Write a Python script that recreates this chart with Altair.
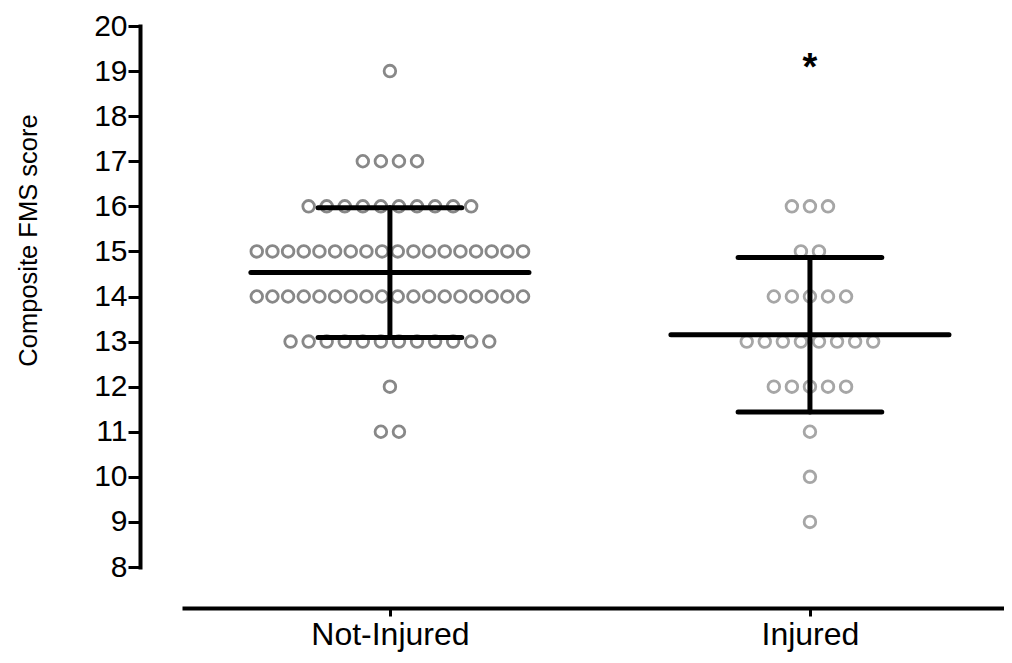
import altair as alt
import pandas as pd

# ---- data ----
groups = ["Not-Injured", "Injured"]
not_injured_scores = [19,
                      17, 17, 17, 17,
                      16, 16, 16, 16, 16, 16, 16, 16, 16, 16,
                      15, 15, 15, 15, 15, 15, 15, 15, 15, 15, 15, 15, 15, 15, 15, 15, 15, 15,
                      14, 14, 14, 14, 14, 14, 14, 14, 14, 14, 14, 14, 14, 14, 14, 14, 14, 14,
                      13, 13, 13, 13, 13, 13, 13, 13, 13, 13, 13, 13,
                      12,
                      11, 11]
injured_scores = [16, 16, 16,
                  15, 15,
                  14, 14, 14, 14, 14,
                  13, 13, 13, 13, 13, 13, 13, 13,
                  12, 12, 12, 12, 12,
                  11,
                  10,
                  9]
point_colors = ["#888888", "#a6a6a6"]
sig_group = ["Injured"]
sig_label = ["*"]
sig_y = [19.25]

# ---- scatter layout (column scatter, like Prism) ----
POINT_STEP = 0.043
MAX_ROW_SPAN = 0.634
rows = []
for gi, (g, scores) in enumerate(zip(groups, [not_injured_scores, injured_scores])):
    for s in sorted(set(scores), reverse=True):
        n = scores.count(s)
        step = min(POINT_STEP, MAX_ROW_SPAN / max(n - 1, 1))
        for k in range(n):
            rows.append({"group": g, "gi": gi, "score": s,
                         "xpos": gi + (k - (n - 1) / 2) * step})
pts = pd.DataFrame(rows)
sig = pd.DataFrame({"group": sig_group, "label": sig_label, "y": sig_y})
sig["gi"] = [groups.index(g) for g in sig_group]

label_expr = " : ".join(f"datum.value == {i} ? '{g}'" for i, g in enumerate(groups)) + " : ''"

xscale = alt.Scale(domain=[-0.495, 1.462], nice=False, zero=False)
yscale = alt.Scale(domain=[8, 20], nice=False, zero=False)

x_axis = alt.Axis(values=list(range(len(groups))), labelExpr=label_expr, title=None,
                  grid=False, offset=41, domainWidth=4, domainColor="black",
                  tickWidth=3, tickColor="black", tickSize=8, labelFontSize=32,
                  labelPadding=3, labelColor="black", labelFont="Liberation Sans")
y_axis = alt.Axis(values=list(range(8, 21)), title="Composite FMS score", grid=False,
                  offset=42, domainWidth=4, domainColor="black", domainCap="square",
                  tickWidth=3, tickColor="black", tickSize=12, labelFontSize=30,
                  labelPadding=1, labelColor="black", labelFont="Liberation Sans",
                  titleFontSize=25.5, titleFont="Liberation Sans", titleFontWeight="normal",
                  titleColor="black", titleAngle=-90, titleX=-112, titleY=214,
                  titleAlign="center", titleBaseline="middle")

points = alt.Chart(pts).mark_point(shape="circle", filled=False, size=135, strokeWidth=2.8,
                                   opacity=1).encode(
    x=alt.X("xpos:Q", scale=xscale, axis=x_axis),
    y=alt.Y("score:Q", scale=yscale, axis=y_axis),
    color=alt.Color("group:N", scale=alt.Scale(domain=groups, range=point_colors), legend=None),
)

stats = alt.Chart(pts).transform_aggregate(
    mean="mean(score)", sd="stdev(score)", groupby=["group", "gi"]
).transform_calculate(
    lo="datum.mean - datum.sd", hi="datum.mean + datum.sd",
    mx1="datum.gi - 0.331", mx2="datum.gi + 0.331",
    cx1="datum.gi - 0.171", cx2="datum.gi + 0.171",
)

rule_style = dict(color="black", strokeWidth=5, strokeCap="round")
mean_rule = stats.mark_rule(**rule_style).encode(
    x=alt.X("mx1:Q", scale=xscale), x2="mx2:Q", y=alt.Y("mean:Q", scale=yscale))
vert_rule = stats.mark_rule(**rule_style).encode(
    x=alt.X("gi:Q", scale=xscale), y=alt.Y("lo:Q", scale=yscale), y2="hi:Q")
caps = stats.transform_fold(["lo", "hi"], as_=["which", "val"]).mark_rule(**rule_style).encode(
    x=alt.X("cx1:Q", scale=xscale), x2="cx2:Q", y=alt.Y("val:Q", scale=yscale))

star = alt.Chart(sig).mark_text(fontSize=38, fontWeight="bold", color="black",
                                baseline="alphabetic", dy=20, font="Liberation Sans").encode(
    x=alt.X("gi:Q", scale=xscale), y=alt.Y("y:Q", scale=yscale), text="label:N")

chart = alt.layer(points, mean_rule, vert_rule, caps, star).properties(
    width=822, height=541,
    autosize=alt.AutoSizeParams(type="none"),
    padding={"left": 174, "top": 18, "right": 0, "bottom": 90},
    background="white",
).configure_view(stroke=None)

chart.save("out.html", embed_options={"renderer": "svg", "actions": False})
